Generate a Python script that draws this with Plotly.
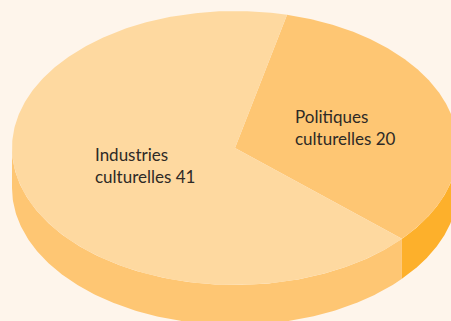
import numpy as np
import plotly.graph_objects as go

# Budget split between the two categories
categories = ["Industries<br>culturelles", "Politiques<br>culturelles"]
values = [41, 20]

top_colors = ["#FED9A0", "#FEC673"]
side_colors = ["#FEC673", "#FDB02B"]
bg = "#FEF5EB"

# Projection of the disc: centre, radii, thickness and starting angle
cx, cy, rx, ry, depth = 235.0, 148.0, 223.0, 137.0, 40.0
start_deg = 76.5  # Politiques starts here and runs clockwise

def pt(theta_deg, dz=0.0):
    t = np.radians(theta_deg)
    return cx + rx * np.cos(t), cy - ry * np.sin(t) + dz

total = sum(values)
spans = [v / total * 360.0 for v in values]

# Slices drawn clockwise: Politiques first from start_deg, then Industries
order = [1, 0]
ranges = {}
a = start_deg
for i in order:
    ranges[i] = (a, a - spans[i])
    a -= spans[i]

fig = go.Figure()

# Front wall of each slice (only the lower half of the rim is visible)
for i in order:
    a0, a1 = ranges[i]
    hi, lo = max(a0, a1), min(a0, a1)
    vis_lo, vis_hi = -180.0, 0.0
    for k in (-360.0, 0.0, 360.0):
        s_lo, s_hi = max(lo + k, vis_lo), min(hi + k, vis_hi)
        if s_hi > s_lo:
            th = np.linspace(s_hi, s_lo, 200)
            xt, yt = pt(th)
            xb, yb = pt(th[::-1], depth)
            fig.add_trace(go.Scatter(
                x=np.concatenate([xt, xb]), y=np.concatenate([yt, yb]),
                mode="lines", fill="toself", fillcolor=side_colors[i],
                line=dict(width=0, color=side_colors[i]), hoverinfo="skip",
                showlegend=False))

# Top faces
for i in order:
    a0, a1 = ranges[i]
    th = np.linspace(a0, a1, 400)
    xs, ys = pt(th)
    fig.add_trace(go.Scatter(
        x=np.concatenate([[cx], xs, [cx]]), y=np.concatenate([[cy], ys, [cy]]),
        mode="lines", fill="toself", fillcolor=top_colors[i],
        line=dict(width=0, color=top_colors[i]), hoverinfo="skip",
        showlegend=False))

label_pos = {0: (93, 142), 1: (293, 104)}
for i in range(len(values)):
    lx, ly = label_pos[i]
    fig.add_annotation(
        x=lx, y=ly, xref="x", yref="y", xanchor="left", yanchor="top",
        text=f"{categories[i]} {values[i]}", showarrow=False, align="left",
        font=dict(family="Lato", size=17, color="#2E2A26"))

fig.update_layout(
    width=451, height=321, margin=dict(l=0, r=0, t=0, b=0),
    paper_bgcolor=bg, plot_bgcolor=bg,
    xaxis=dict(range=[0, 451], visible=False, fixedrange=True),
    yaxis=dict(range=[321, 0], visible=False, fixedrange=True),
)

fig.write_html("out.html")
